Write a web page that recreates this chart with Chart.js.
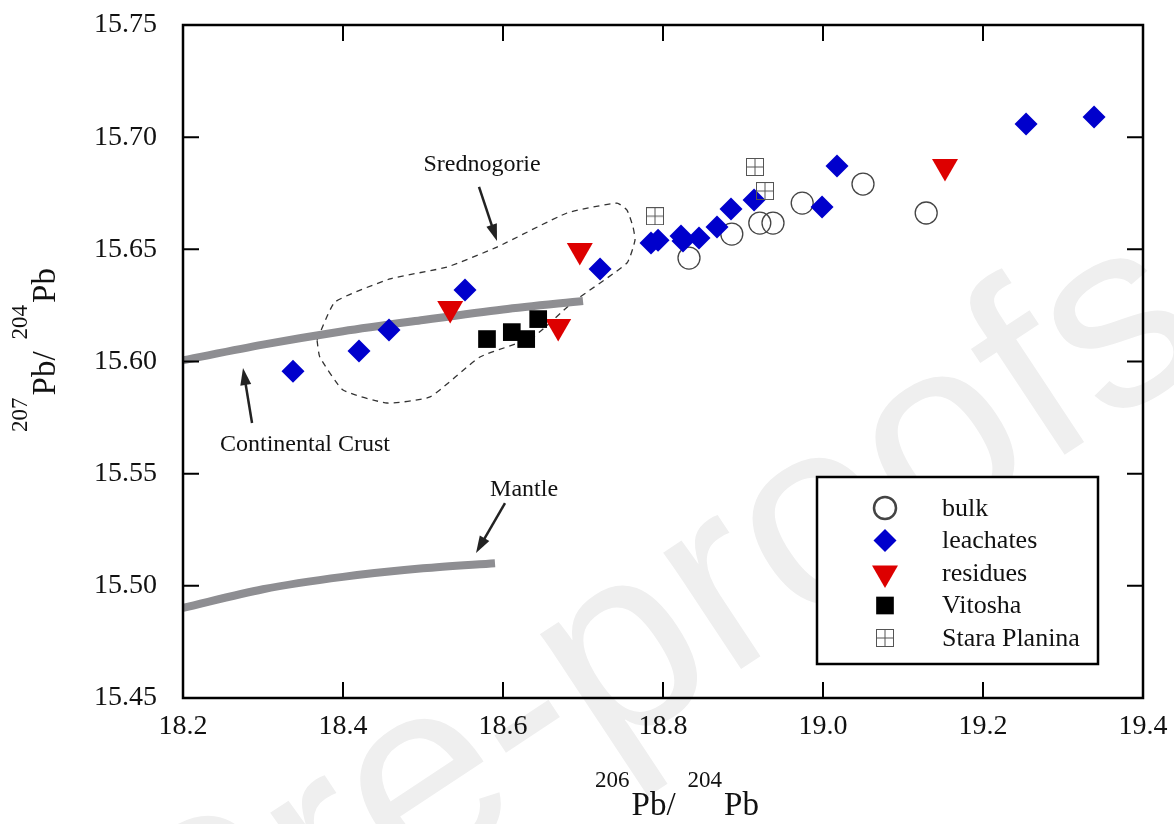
<!DOCTYPE html>
<html>
<head>
<meta charset="utf-8">
<title>Pb isotopes</title>
<script src="https://cdn.jsdelivr.net/npm/chart.js@4.4.0/dist/chart.umd.min.js"></script>
<style>
  html, body { margin: 0; padding: 0; background: #fff; }
</style>
</head>
<body>
<canvas id="pbChart" width="1174" height="824"></canvas>
<script>
// values (206Pb/204Pb, 207Pb/204Pb)
const bulkX = [18.8325, 18.886, 18.921, 18.9375, 18.974, 19.05, 19.129];
const bulkY = [15.6461, 15.6568, 15.6617, 15.6617, 15.6706, 15.6791, 15.6662];

const leachX = [18.3375, 18.42, 18.4575, 18.5525, 18.7213, 18.785, 18.7938, 18.8225, 18.825,
  18.845, 18.8675, 18.885, 18.9138, 18.9988, 19.0175, 19.2538, 19.3388];
const leachY = [15.5957, 15.6047, 15.614, 15.6319, 15.6412, 15.6528, 15.6541, 15.6559, 15.6537,
  15.655, 15.66, 15.668, 15.672, 15.6689, 15.6871, 15.7059, 15.709];

const residX = [18.534, 18.696, 18.669, 19.1525];
const residY = [15.6236, 15.6495, 15.6156, 15.6869];

const vitoshaX = [18.58, 18.611, 18.629, 18.644];
const vitoshaY = [15.610, 15.6131, 15.610, 15.6189];

const staraX = [18.79, 18.915, 18.9275];
const staraY = [15.6648, 15.6867, 15.676];

// growth curves
const crustX = [18.2, 18.3, 18.4, 18.5, 18.6, 18.7];
const crustY = [15.6005, 15.6075, 15.6135, 15.6185, 15.6232, 15.627];
const mantleX = [18.2, 18.3, 18.4, 18.5, 18.59];
const mantleY = [15.4902, 15.4985, 15.504, 15.5078, 15.5101];

// Srednogorie field outline
const fieldX = [18.3675, 18.39, 18.4588, 18.53, 18.5925, 18.68, 18.7425, 18.755, 18.7625, 18.765,
  18.755, 18.6875, 18.6375, 18.5713, 18.5088, 18.455, 18.40, 18.371, 18.3675];
const fieldY = [15.6096, 15.6265, 15.6368, 15.6421, 15.651, 15.6662, 15.6706, 15.6675, 15.66, 15.6541,
  15.6439, 15.6265, 15.6109, 15.602, 15.5842, 15.5815, 15.5873, 15.602, 15.6096];

// tick labels
const xTicks = [18.2, 18.4, 18.6, 18.8, 19.0, 19.2, 19.4];
const yTicks = [15.45, 15.50, 15.55, 15.60, 15.65, 15.70, 15.75];

// annotation labels and arrows (data coords)
const notes = [
  { text: "Srednogorie", x: 18.5738, y: 15.6876, from: [18.57, 15.6778], to: [18.5925, 15.6537] },
  { text: "Continental Crust", x: 18.3525, y: 15.5628, from: [18.2863, 15.5726], to: [18.275, 15.5971] },
  { text: "Mantle", x: 18.6263, y: 15.5427, from: [18.6025, 15.5369], to: [18.5663, 15.5146] }
];

const SERIF = '"Liberation Serif", "Times New Roman", serif';

function pairs(xs, ys) {
  return xs.map((x, i) => ({ x: x, y: ys[i] }));
}

// square with a cross for Stara Planina
function crossSquare() {
  const c = document.createElement("canvas");
  c.width = 18;
  c.height = 18;
  const g = c.getContext("2d");
  g.strokeStyle = "#555";
  g.lineWidth = 1;
  g.strokeRect(0.5, 0.5, 17, 17);
  g.beginPath();
  g.moveTo(9, 0.5); g.lineTo(9, 17.5);
  g.moveTo(0.5, 9); g.lineTo(17.5, 9);
  g.stroke();
  return c;
}

const datasets = [
  {
    label: "Stara Planina", data: pairs(staraX, staraY), legend: true,
    pointStyle: crossSquare(), pointRadius: 9, backgroundColor: "#555", borderColor: "#555"
  },
  {
    label: "Vitosha", data: pairs(vitoshaX, vitoshaY), legend: true,
    pointStyle: "rect", pointRadius: 12.5, backgroundColor: "#000", borderColor: "#000", borderWidth: 0
  },
  {
    label: "residues", data: pairs(residX, residY), legend: true,
    pointStyle: "triangle", pointRotation: 180, pointRadius: 15, backgroundColor: "#dd0000", borderColor: "#dd0000", borderWidth: 0
  },
  {
    label: "leachates", data: pairs(leachX, leachY), legend: true,
    pointStyle: "rectRot", pointRadius: 11.5, backgroundColor: "#0000cc", borderColor: "#0000cc", borderWidth: 0
  },
  {
    label: "bulk", data: pairs(bulkX, bulkY), legend: true,
    pointStyle: "circle", pointRadius: 11, backgroundColor: "rgba(0,0,0,0)", borderColor: "#444", borderWidth: 1.3
  },
  {
    label: "crust", data: pairs(crustX, crustY), showLine: true, pointRadius: 0,
    borderColor: "#8e8e92", borderWidth: 8, tension: 0.3
  },
  {
    label: "mantle", data: pairs(mantleX, mantleY), showLine: true, pointRadius: 0,
    borderColor: "#8e8e92", borderWidth: 8, tension: 0.3
  },
  {
    label: "Srednogorie", data: pairs(fieldX, fieldY), showLine: true, pointRadius: 0,
    borderColor: "#333", borderWidth: 1.3, borderDash: [6, 5], tension: 0.15
  }
];

function arrow(ctx, x1, y1, x2, y2) {
  const ang = Math.atan2(y2 - y1, x2 - x1);
  const head = 17;
  ctx.beginPath();
  ctx.moveTo(x1, y1);
  ctx.lineTo(x2 - Math.cos(ang) * head * 0.8, y2 - Math.sin(ang) * head * 0.8);
  ctx.lineWidth = 2.5;
  ctx.strokeStyle = "#222";
  ctx.stroke();
  ctx.beginPath();
  ctx.moveTo(x2, y2);
  ctx.lineTo(x2 - head * Math.cos(ang) + 5.5 * Math.sin(ang), y2 - head * Math.sin(ang) - 5.5 * Math.cos(ang));
  ctx.lineTo(x2 - head * Math.cos(ang) - 5.5 * Math.sin(ang), y2 - head * Math.sin(ang) + 5.5 * Math.cos(ang));
  ctx.closePath();
  ctx.fillStyle = "#222";
  ctx.fill();
}

// "206Pb/204Pb" style label, centred on cx, Pb baseline at 0
function isotopeLabel(ctx, cx, sup1, sup2) {
  const parts = [
    { t: sup1, f: "23px " + SERIF, dy: -28, gap: 2 },
    { t: "Pb/", f: "33px " + SERIF, dy: 0, gap: 12 },
    { t: sup2, f: "23px " + SERIF, dy: -28, gap: 2 },
    { t: "Pb", f: "33px " + SERIF, dy: 0, gap: 0 }
  ];
  let total = 0;
  parts.forEach(p => { ctx.font = p.f; p.w = ctx.measureText(p.t).width; total += p.w + p.gap; });
  let x = cx - total / 2;
  ctx.fillStyle = "#111";
  ctx.textAlign = "left";
  ctx.textBaseline = "alphabetic";
  parts.forEach(p => {
    ctx.font = p.f;
    ctx.fillText(p.t, x, p.dy);
    x += p.w + p.gap;
  });
}

const watermark = {
  id: "watermark",
  beforeDraw(chart) {
    const ctx = chart.ctx;
    ctx.save();
    ctx.translate(1217, 354);
    ctx.rotate(-33.5 * Math.PI / 180);
    ctx.font = '265px "Liberation Sans", Arial, sans-serif';
    ctx.fillStyle = "#efefef";
    ctx.textAlign = "right";
    ctx.textBaseline = "alphabetic";
    ctx.fillText("Journal Pre-proofs", 0, 0);
    ctx.restore();
  }
};

const decorations = {
  id: "decorations",
  afterDraw(chart) {
    const ctx = chart.ctx;
    const a = chart.chartArea;
    const sx = chart.scales.x;
    const sy = chart.scales.y;
    ctx.save();

    // frame + inward ticks on all sides
    ctx.strokeStyle = "#000";
    ctx.lineWidth = 2.5;
    ctx.strokeRect(a.left, a.top, a.right - a.left, a.bottom - a.top);
    ctx.lineWidth = 2;
    ctx.beginPath();
    xTicks.forEach(v => {
      const px = sx.getPixelForValue(v);
      ctx.moveTo(px, a.bottom); ctx.lineTo(px, a.bottom - 16);
      ctx.moveTo(px, a.top); ctx.lineTo(px, a.top + 16);
    });
    yTicks.forEach(v => {
      const py = sy.getPixelForValue(v);
      ctx.moveTo(a.left, py); ctx.lineTo(a.left + 16, py);
      ctx.moveTo(a.right, py); ctx.lineTo(a.right - 16, py);
    });
    ctx.stroke();

    // annotations
    notes.forEach(n => {
      ctx.font = "24px " + SERIF;
      ctx.fillStyle = "#111";
      ctx.textAlign = "center";
      ctx.textBaseline = "middle";
      ctx.fillText(n.text, sx.getPixelForValue(n.x), sy.getPixelForValue(n.y));
      arrow(ctx, sx.getPixelForValue(n.from[0]), sy.getPixelForValue(n.from[1]),
        sx.getPixelForValue(n.to[0]), sy.getPixelForValue(n.to[1]));
    });

    // legend box
    const box = { left: 817, top: 477, right: 1098, bottom: 664 };
    ctx.lineWidth = 2.5;
    ctx.strokeStyle = "#000";
    ctx.fillStyle = "#fff";
    ctx.fillRect(box.left, box.top, box.right - box.left, box.bottom - box.top);
    ctx.strokeRect(box.left, box.top, box.right - box.left, box.bottom - box.top);
    const items = chart.data.datasets.filter(d => d.legend).reverse();
    items.forEach((d, i) => {
      const y = box.top + 31 + i * 32.5;
      ctx.fillStyle = d.backgroundColor;
      ctx.strokeStyle = d.borderColor;
      Chart.helpers.drawPoint(ctx, {
        pointStyle: d.pointStyle, rotation: d.pointRotation || 0,
        radius: d.pointRadius, borderWidth: d.borderWidth || 0
      }, 885, y);
      ctx.font = "26px " + SERIF;
      ctx.fillStyle = "#111";
      ctx.textAlign = "left";
      ctx.textBaseline = "middle";
      ctx.fillText(d.label, 942, y + 1);
    });

    // axis titles
    ctx.save();
    ctx.translate(0, 815);
    isotopeLabel(ctx, 677, "206", "204");
    ctx.restore();
    ctx.save();
    ctx.translate(55, 350);
    ctx.rotate(-Math.PI / 2);
    isotopeLabel(ctx, 0, "207", "204");
    ctx.restore();

    ctx.restore();
  }
};

function noPadding(s) {
  s.paddingTop = 0;
  s.paddingBottom = 0;
  s.paddingLeft = 0;
  s.paddingRight = 0;
}

const ctx = document.getElementById("pbChart").getContext("2d");

const pbChart = new Chart(ctx, {
  type: "scatter",
  data: { datasets: datasets },
  options: {
    responsive: false,
    animation: false,
    events: [],
    layout: { padding: { left: 0, right: 31, top: 25, bottom: 0 } },
    plugins: {
      legend: { display: false },
      tooltip: { enabled: false }
    },
    scales: {
      x: {
        type: "linear",
        min: 18.2,
        max: 19.4,
        afterFit: s => { s.height = 126; noPadding(s); },
        grid: { display: false, drawTicks: false },
        border: { display: false },
        afterBuildTicks: s => { s.ticks = xTicks.map(v => ({ value: v })); },
        ticks: {
          padding: 12,
          color: "#111",
          maxRotation: 0,
          autoSkip: false,
          font: { family: SERIF, size: 28 },
          callback: v => v.toFixed(1)
        }
      },
      y: {
        type: "linear",
        min: 15.45,
        max: 15.75,
        afterFit: s => { s.width = 183; noPadding(s); },
        grid: { display: false, drawTicks: false },
        border: { display: false },
        afterBuildTicks: s => { s.ticks = yTicks.map(v => ({ value: v })); },
        ticks: {
          padding: 26,
          color: "#111",
          autoSkip: false,
          font: { family: SERIF, size: 28 },
          callback: v => v.toFixed(2)
        }
      }
    }
  },
  plugins: [watermark, decorations]
});
</script>
</body>
</html>
